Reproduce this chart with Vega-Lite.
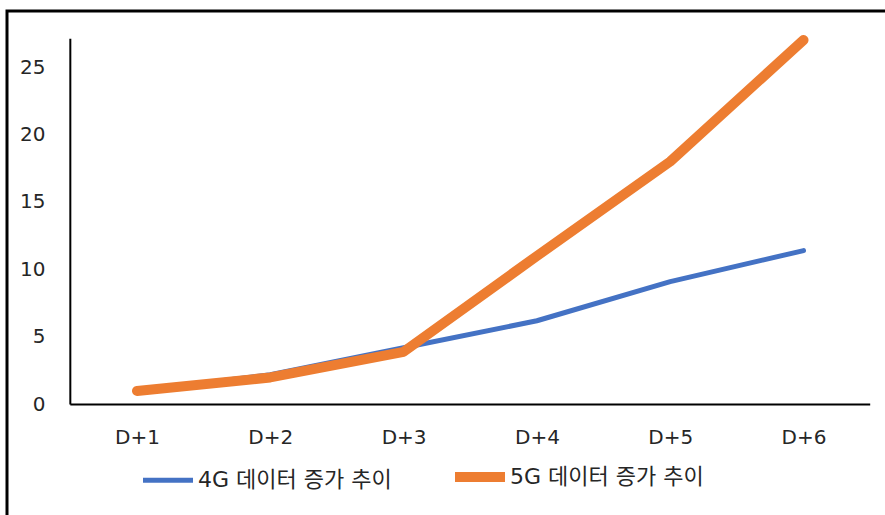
{
  "$schema": "https://vega.github.io/schema/vega-lite/v6.json",
  "autosize": {"type": "none"},
  "padding": {"left": 7, "top": 11, "right": 0, "bottom": 0},
  "width": 878,
  "height": 504,
  "background": "white",
  "config": {
    "font": "DejaVu Sans, Noto Sans CJK KR",
    "view": {"stroke": "#000000", "strokeWidth": 3, "strokeDash": [878, 1382, 504]}
  },
  "datasets": {
    "trend": [
      {"day": 1, "series": "4G 데이터 증가 추이", "value": 1.0},
      {"day": 2, "series": "4G 데이터 증가 추이", "value": 2.2},
      {"day": 3, "series": "4G 데이터 증가 추이", "value": 4.2},
      {"day": 4, "series": "4G 데이터 증가 추이", "value": 6.2},
      {"day": 5, "series": "4G 데이터 증가 추이", "value": 9.1},
      {"day": 6, "series": "4G 데이터 증가 추이", "value": 11.4},
      {"day": 1, "series": "5G 데이터 증가 추이", "value": 1.0},
      {"day": 2, "series": "5G 데이터 증가 추이", "value": 2.0},
      {"day": 3, "series": "5G 데이터 증가 추이", "value": 3.9},
      {"day": 4, "series": "5G 데이터 증가 추이", "value": 11.0},
      {"day": 5, "series": "5G 데이터 증가 추이", "value": 18.0},
      {"day": 6, "series": "5G 데이터 증가 추이", "value": 27.0}
    ]
  },
  "layer": [
    {
      "data": {"values": [{}]},
      "mark": {"type": "rule", "color": "#000000", "strokeWidth": 2},
      "encoding": {
        "x": {"datum": 0.5, "type": "quantitative", "scale": {"domain": [0.025, 6.611], "nice": false, "zero": false}},
        "y": {"datum": 0, "type": "quantitative", "scale": {"domain": [-8.19, 29.15], "nice": false, "zero": false}},
        "y2": {"datum": 27.1}
      }
    },
    {
      "data": {"values": [{}]},
      "mark": {"type": "rule", "color": "#000000", "strokeWidth": 2},
      "encoding": {
        "x": {"datum": 0.5, "type": "quantitative"},
        "x2": {"datum": 6.5},
        "y": {"datum": 0, "type": "quantitative"}
      }
    },
    {
      "data": {"name": "trend"},
      "mark": {"type": "line", "strokeCap": "round", "strokeJoin": "round"},
      "encoding": {
        "x": {
          "field": "day",
          "type": "quantitative",
          "scale": {"domain": [0.025, 6.611], "nice": false, "zero": false},
          "axis": {
            "orient": "bottom",
            "title": null,
            "values": [1, 2, 3, 4, 5, 6],
            "labelExpr": "'D+' + datum.value",
            "domain": false,
            "ticks": false,
            "grid": false,
            "offset": -110.5,
            "labelPadding": 23,
            "labelFontSize": 20,
            "labelColor": "#262626",
            "labelFlush": false,
            "labelOverlap": false
          }
        },
        "y": {
          "field": "value",
          "type": "quantitative",
          "scale": {"domain": [-8.19, 29.15], "nice": false, "zero": false},
          "axis": {
            "title": null,
            "values": [0, 5, 10, 15, 20, 25],
            "domain": false,
            "ticks": false,
            "grid": false,
            "offset": -63,
            "labelPadding": 25,
            "labelFontSize": 20,
            "labelColor": "#262626",
            "labelFlush": false,
            "labelOverlap": false
          }
        },
        "color": {
          "field": "series",
          "type": "nominal",
          "scale": {"range": ["#4472C4", "#ED7D31"]},
          "legend": {
            "orient": "none",
            "legendX": 131,
            "legendY": 436,
            "direction": "horizontal",
            "columns": 2,
            "title": null,
            "symbolType": "stroke",
            "symbolSize": 2500,
            "labelFontSize": 22,
            "labelLimit": 400,
            "labelOffset": 0,
            "columnPadding": 43,
            "padding": 0,
            "labelColor": "#262626"
          }
        },
        "strokeWidth": {
          "field": "series",
          "type": "nominal",
          "scale": {"range": [5, 10]},
          "legend": null
        }
      }
    }
  ]
}
